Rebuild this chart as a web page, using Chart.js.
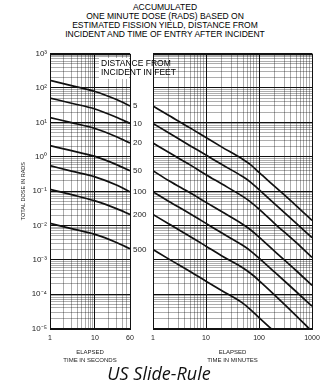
<!DOCTYPE html>
<html>
<head>
<meta charset="utf-8">
<script src="https://cdn.jsdelivr.net/npm/chart.js@4.4.0/dist/chart.umd.min.js"></script>
<style>
  html, body { margin: 0; padding: 0; background: #fff; }
  #wrap { position: relative; width: 320px; height: 386px; overflow: hidden; background: #fff;
          font-family: 'Liberation Sans', Arial, sans-serif; color: #111; }
  #title { position: absolute; left: 0; top: 3px; width: 330px; text-align: center;
           font-size: 8.5px; line-height: 9px; color: #000; opacity: 0.999; }
  #leftBox { position: absolute; left: 0; top: 40px; }
  #rightBox { position: absolute; left: 130px; top: 40px; }
  #distBg { position: absolute; left: 99px; top: 58px; width: 30px; height: 21px; background: #fff; }
  #dist { position: absolute; left: 101px; top: 59px; font-size: 8.5px; line-height: 9px; white-space: nowrap; color: #000; opacity: 0.999; }
  #caption { position: absolute; left: 0; top: 362px; width: 318px; text-align: center; opacity: 0.999;
             font-family: 'Open Sans', 'Noto Sans', sans-serif; font-style: italic; font-size: 18px; line-height: 22px; color: #111; }
</style>
</head>
<body>
<div id="wrap">
  <div id="title">ACCUMULATED<br>ONE MINUTE DOSE (RADS) BASED ON<br>ESTIMATED FISSION YIELD, DISTANCE FROM<br>INCIDENT AND TIME OF ENTRY AFTER INCIDENT</div>
  <canvas id="leftBox" width="140" height="324"></canvas>
  <canvas id="rightBox" width="200" height="324"></canvas>
  <div id="distBg"></div>
  <div id="dist">DISTANCE FROM<br>INCIDENT IN FEET</div>
  <div id="caption">US Slide-Rule</div>
</div>
<script>
// distance curves (feet)
const distances = ['5', '10', '20', '50', '100', '200', '500'];

// left panel: elapsed time in seconds
const seconds = [1, 3, 10, 30, 60];
const sec5ft   = [166, 117, 79, 46, 30];
const sec10ft  = [51, 36, 24.5, 14, 9.3];
const sec20ft  = [13.8, 9.8, 6.6, 3.8, 2.5];
const sec50ft  = [2.1, 1.5, 1.02, 0.59, 0.39];
const sec100ft = [0.55, 0.38, 0.26, 0.15, 0.095];
const sec200ft = [0.112, 0.079, 0.052, 0.031, 0.021];
const sec500ft = [0.0115, 0.0081, 0.0055, 0.0032, 0.0021];

// right panel: elapsed time in minutes
const minutes = [1, 2, 5, 10, 20, 50, 70, 100, 200, 500, 1000];
const min5ft   = [30, 15.8, 6.9, 3.6, 1.9, 0.83, 0.58, 0.35, 0.135, 0.038, 0.014];
const min10ft  = [9.3, 4.9, 2.1, 1.12, 0.59, 0.26, 0.18, 0.11, 0.042, 0.0117, 0.0044];
const min20ft  = [2.5, 1.32, 0.58, 0.30, 0.16, 0.069, 0.048, 0.030, 0.0112, 0.0032, 0.00117];
const min50ft  = [0.39, 0.20, 0.089, 0.047, 0.025, 0.0107, 0.0074, 0.0046, 0.00174, 0.00049, 0.00018];
const min100ft = [0.095, 0.050, 0.022, 0.0115, 0.006, 0.0026, 0.0018, 0.00112, 0.00043, 0.00012, 0.000045];
const min200ft = [0.021, 0.011, 0.0048, 0.0025, 0.0013, 0.00058, 0.0004, 0.00025, 0.000093, 0.000024, 0.0000083];
const min500ft = [0.002, 0.00105, 0.00046, 0.00024, 0.000126, 0.000054, 0.000035, 0.000021, 0.0000079];

// tick labels
const yLabelValues = [1e3, 1e2, 1e1, 1e0, 1e-1, 1e-2, 1e-3, 1e-4, 1e-5];
const yLabels = ['10³', '10²', '10¹', '10⁰', '10⁻¹', '10⁻²', '10⁻³', '10⁻⁴', '10⁻⁵'];
const secLabelValues = [1, 10, 60];
const secLabels = ['1', '10', '60'];
const minLabelValues = [1, 10, 100, 1000];
const minLabels = ['1', '10', '100', '1000'];

// grid line positions (graph paper)
function logGrid(lo, hi, max) {
  const out = [];
  for (let k = lo; k <= hi; k++) {
    for (let m = 1; m <= 9; m++) {
      const v = Number((m * Math.pow(10, k)).toPrecision(6));
      if (v <= max) out.push(v);
    }
  }
  if (out[out.length - 1] < max) out.push(max);
  return out;
}
const yGrid = logGrid(-5, 2, 1e3);
const secGrid = logGrid(0, 1, 60);
const minGrid = logGrid(0, 2, 1000);

const isDecade = v => Math.abs(Math.log10(v) - Math.round(Math.log10(v))) < 1e-9;
const gridColor = c => (c.tick && isDecade(c.tick.value)) ? '#111' : 'rgba(0,0,0,0.32)';
const labelFor = (vals, labels) => v => {
  const i = vals.findIndex(x => Math.abs(x - v) / x < 1e-6);
  return i >= 0 ? labels[i] : '';
};

const FONT = "'Liberation Sans', Arial, sans-serif";
const NARROW = "'Liberation Sans Narrow', 'Liberation Sans', sans-serif";

const frame = {
  id: 'frame',
  afterDatasetsDraw(chart) {
    const a = chart.chartArea, ctx = chart.ctx;
    ctx.save();
    ctx.strokeStyle = '#111';
    ctx.lineWidth = 1;
    ctx.strokeRect(Math.round(a.left) + 0.5, Math.round(a.top) + 0.5,
                   Math.round(a.right - a.left), Math.round(a.bottom - a.top));
    ctx.restore();
  }
};

function makeSets(times, series) {
  return series.map(s => ({
    data: s.map((v, i) => ({ x: times[i], y: v })),
    borderColor: '#111',
    borderWidth: 1.7,
    pointRadius: 0,
    fill: false,
    cubicInterpolationMode: 'monotone'
  }));
}

function xAxis(max, grid, vals, labels, titleText) {
  return {
    type: 'logarithmic', min: 1, max: max,
    afterBuildTicks: ax => { ax.ticks = grid.map(v => ({ value: v })); },
    ticks: { autoSkip: false, maxRotation: 0, padding: 5, color: '#222',
             font: { size: 7, family: FONT }, callback: labelFor(vals, labels) },
    grid: { drawTicks: false, color: gridColor, lineWidth: 1 },
    border: { color: '#111' },
    title: { display: true, text: titleText, color: '#222',
             font: { size: 6, family: NARROW, lineHeight: 1.25 }, padding: { top: 2, bottom: 0 } }
  };
}

function yAxis(show) {
  return {
    type: 'logarithmic', min: 1e-5, max: 1e3,
    afterBuildTicks: ax => { ax.ticks = yGrid.map(v => ({ value: v })); },
    afterFit: ax => { ax.width = show ? 30 : 0; },
    ticks: { display: show, autoSkip: false, padding: 3, color: '#222',
             font: { size: 8, family: FONT }, callback: labelFor(yLabelValues, yLabels) },
    grid: { drawTicks: false, color: gridColor, lineWidth: 1 },
    border: { color: '#111' },
    title: { display: show, text: 'TOTAL DOSE IN RADS', color: '#222',
             font: { size: 5.5, family: NARROW }, padding: { top: 0, bottom: 0 } }
  };
}

new Chart(document.getElementById('leftBox'), {
  type: 'line',
  data: { datasets: makeSets(seconds, [sec5ft, sec10ft, sec20ft, sec50ft, sec100ft, sec200ft, sec500ft]) },
  options: {
    responsive: false, animation: false, devicePixelRatio: 1,
    layout: { padding: { left: 20, right: 10, top: 13.6, bottom: 0 } },
    plugins: { legend: { display: false }, tooltip: { enabled: false } },
    scales: {
      x: xAxis(60, secGrid, secLabelValues, secLabels, ['ELAPSED', 'TIME IN SECONDS']),
      y: yAxis(true)
    }
  },
  plugins: [frame]
});

const minSeries = [min5ft, min10ft, min20ft, min50ft, min100ft, min200ft, min500ft];

// curve names written in the gap between the two panels
const distLabels = {
  id: 'distLabels',
  afterDatasetsDraw(chart) {
    const ctx = chart.ctx, ys = chart.scales.y;
    ctx.save();
    ctx.font = '8px ' + FONT;
    ctx.fillStyle = '#222';
    ctx.textBaseline = 'middle';
    distances.forEach((d, i) => {
      ctx.fillText(d, 3, ys.getPixelForValue(minSeries[i][0]));
    });
    ctx.restore();
  }
};

new Chart(document.getElementById('rightBox'), {
  type: 'line',
  data: { datasets: makeSets(minutes, minSeries) },
  options: {
    responsive: false, animation: false, devicePixelRatio: 1,
    layout: { padding: { left: 23, right: 18, top: 13.6, bottom: 0 } },
    plugins: { legend: { display: false }, tooltip: { enabled: false } },
    scales: {
      x: xAxis(1000, minGrid, minLabelValues, minLabels, ['ELAPSED', 'TIME IN MINUTES']),
      y: yAxis(false)
    }
  },
  plugins: [frame, distLabels]
});
</script>
</body>
</html>
